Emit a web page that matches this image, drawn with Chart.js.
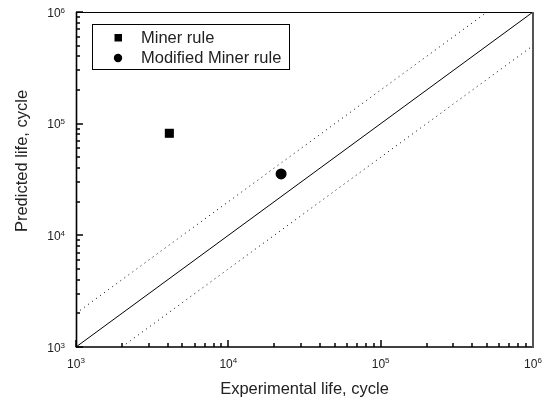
<!DOCTYPE html>
<html>
<head>
<meta charset="utf-8">
<script src="https://cdn.jsdelivr.net/npm/chart.js@4/dist/chart.umd.min.js"></script>
<style>
  body { margin: 0; background: #fff; }
  canvas { display: block; }
</style>
</head>
<body>
<canvas id="lifeChart" width="547" height="400"></canvas>
<script>
// данные
const seriesLabels = ['Miner rule', 'Modified Miner rule'];
const minerX = [4100];
const minerY = [82000];
const modifiedX = [22200];
const modifiedY = [35500];

// диапазон осей и показатели степени для подписей
const axisMin = 1e3;
const axisMax = 1e6;
const tickExponents = [3, 4, 5, 6];
const scatterFactor = 2; // полоса ±2 раза

const FONT = '"Liberation Sans", Arial, sans-serif';

const toPoints = (xs, ys) => xs.map((x, i) => ({ x: x, y: ys[i] }));

// рамка, засечки внутрь, подписи 10^n, легенда
const framePlugin = {
  id: 'frame',
  afterDraw(chart) {
    const ctx = chart.ctx;
    const a = chart.chartArea;
    const xs = chart.scales.x;
    const ys = chart.scales.y;
    ctx.save();

    // засечки
    ctx.strokeStyle = '#000';
    ctx.lineWidth = 1.5;
    for (let e = 3; e <= 6; e++) {
      for (let m = 1; m <= 9; m++) {
        if (e === 6 && m > 1) break;
        const v = m * Math.pow(10, e);
        const len = m === 1 ? 7 : 4;
        const px = Math.round(xs.getPixelForValue(v));
        ctx.beginPath();
        ctx.moveTo(px, a.bottom);
        ctx.lineTo(px, a.bottom - len);
        ctx.stroke();
        const py = Math.round(ys.getPixelForValue(v));
        ctx.beginPath();
        ctx.moveTo(a.left, py);
        ctx.lineTo(a.left + len, py);
        ctx.stroke();
      }
    }

    // рамка
    ctx.strokeStyle = '#000';
    ctx.lineWidth = 1.2;
    ctx.beginPath();
    ctx.moveTo(a.left, a.top + 0.5);
    ctx.lineTo(a.right, a.top + 0.5);
    ctx.stroke();
    ctx.lineWidth = 1.6;
    ctx.beginPath();
    ctx.moveTo(a.left + 0.5, a.top);
    ctx.lineTo(a.left + 0.5, a.bottom);
    ctx.lineTo(a.right, a.bottom);
    ctx.stroke();
    ctx.strokeStyle = '#555';
    ctx.lineWidth = 2;
    ctx.beginPath();
    ctx.moveTo(a.right, a.top);
    ctx.lineTo(a.right, a.bottom + 1);
    ctx.stroke();

    // подписи делений
    ctx.fillStyle = '#222';
    ctx.textBaseline = 'alphabetic';
    tickExponents.forEach(e => {
      const v = Math.pow(10, e);
      const baseFont = '12px ' + FONT;
      const supFont = '8px ' + FONT;
      ctx.font = baseFont;
      const wBase = ctx.measureText('10').width;
      ctx.font = supFont;
      const wSup = ctx.measureText(String(e)).width;
      // ось X
      const px = xs.getPixelForValue(v);
      const x0 = px - (wBase + wSup) / 2;
      ctx.font = baseFont;
      ctx.textAlign = 'left';
      ctx.fillText('10', x0, 368);
      ctx.font = supFont;
      ctx.fillText(String(e), x0 + wBase, 363);
      // ось Y
      const py = ys.getPixelForValue(v);
      const right = 65;
      ctx.font = baseFont;
      ctx.fillText('10', right - wSup - wBase, py + 4.5);
      ctx.font = supFont;
      ctx.fillText(String(e), right - wSup, py + 0.5);
    });

    // названия осей
    ctx.font = '16.5px ' + FONT;
    ctx.textAlign = 'center';
    ctx.fillText('Experimental life, cycle', (a.left + a.right) / 2, 393.5);
    ctx.save();
    ctx.translate(27, 161);
    ctx.rotate(-Math.PI / 2);
    ctx.fillText('Predicted life, cycle', 0, 0);
    ctx.restore();

    // легенда
    ctx.strokeStyle = '#000';
    ctx.lineWidth = 1;
    ctx.strokeRect(92.5, 24.5, 197, 45);
    ctx.fillStyle = '#000';
    ctx.fillRect(114.5, 34, 7.5, 7.5);
    ctx.beginPath();
    ctx.arc(118, 58, 4.2, 0, Math.PI * 2);
    ctx.fill();
    ctx.fillStyle = '#222';
    ctx.font = '16.5px ' + FONT;
    ctx.textAlign = 'left';
    ctx.fillText(seriesLabels[0], 141, 42.5);
    ctx.fillText(seriesLabels[1], 141, 63);

    ctx.restore();
  }
};

const lineStyle = { showLine: true, pointRadius: 0, borderColor: '#000', borderWidth: 1, fill: false };

new Chart(document.getElementById('lifeChart'), {
  type: 'scatter',
  data: {
    datasets: [
      Object.assign({ label: 'y = x', data: [{ x: axisMin, y: axisMin }, { x: axisMax, y: axisMax }] }, lineStyle),
      Object.assign({ label: 'upper', borderDash: [1, 4], data: [{ x: axisMin, y: axisMin * scatterFactor }, { x: axisMax / scatterFactor, y: axisMax }] }, lineStyle),
      Object.assign({ label: 'lower', borderDash: [1, 4], data: [{ x: axisMin * scatterFactor, y: axisMin }, { x: axisMax, y: axisMax / scatterFactor }] }, lineStyle),
      {
        label: seriesLabels[0],
        data: toPoints(minerX, minerY),
        pointStyle: 'rect',
        pointRadius: 6.4,
        backgroundColor: '#000',
        borderColor: '#000',
        borderWidth: 0
      },
      {
        label: seriesLabels[1],
        data: toPoints(modifiedX, modifiedY),
        pointStyle: 'circle',
        pointRadius: 5.5,
        backgroundColor: '#000',
        borderColor: '#000',
        borderWidth: 0
      }
    ]
  },
  options: {
    responsive: false,
    animation: false,
    layout: { padding: { left: 0, right: 14, top: 12, bottom: 0 } },
    plugins: {
      legend: { display: false },
      tooltip: { enabled: false }
    },
    scales: {
      x: {
        type: 'logarithmic',
        min: axisMin,
        max: axisMax,
        grid: { display: false },
        border: { display: false },
        ticks: { display: false },
        afterFit(scale) { scale.height = 53; }
      },
      y: {
        type: 'logarithmic',
        min: axisMin,
        max: axisMax,
        grid: { display: false },
        border: { display: false },
        ticks: { display: false },
        afterFit(scale) { scale.width = 76; }
      }
    }
  },
  plugins: [framePlugin]
});
</script>
</body>
</html>
